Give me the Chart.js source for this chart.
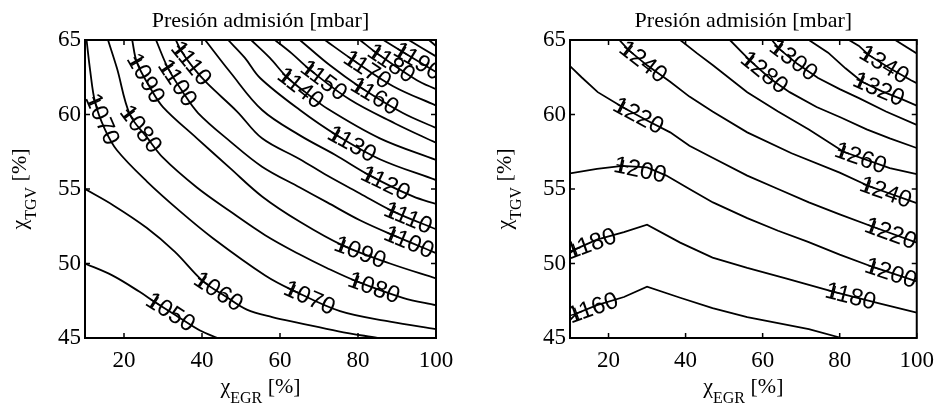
<!DOCTYPE html>
<html>
<head>
<meta charset="utf-8">
<title>Presión admisión</title>
<script src="https://cdn.jsdelivr.net/npm/chart.js@4.4.1/dist/chart.umd.min.js"></script>
<style>
  html, body { margin: 0; padding: 0; background: #fff; }
  #wrap { position: relative; width: 943px; height: 410px; }
  .panel { position: absolute; top: 0; height: 410px; }
</style>
</head>
<body>
<div id="wrap">
  <div class="panel" style="left:0;width:471px"><canvas id="chartLeft" width="471" height="410"></canvas></div>
  <div class="panel" style="left:471px;width:472px"><canvas id="chartRight" width="472" height="410"></canvas></div>
</div>
<script>
// axes
const xTicks = [20, 40, 60, 80, 100];
const yTicks = [45, 50, 55, 60, 65];

// left map: iso-pressure lines, points are [xEGR %, xTGV %]
const L1050 = [[10, 50.0], [17, 49.2], [24, 48.1], [28, 47.4], [34, 46.4], [39.5, 45.5], [44, 45.0]];
const L1060 = [[10, 55.0], [17.3, 53.9], [25.8, 52.4], [33, 50.8], [40.3, 48.8], [46, 47.8], [51.5, 46.9], [58, 46.4], [65, 46.0], [75, 45.45], [85, 45.0]];
const L1070 = [[10.4, 65], [11.3, 63.0], [12.6, 60.8], [15.1, 59.0], [18.2, 57.6], [25.9, 55.5], [34.4, 53.5], [42.8, 51.7], [56.2, 49.2], [63.3, 48.2], [75.4, 46.8], [88.2, 46.1], [100, 45.6]];
const L1080 = [[15.9, 65], [18.2, 63.1], [21.5, 60.0], [25.8, 58.5], [30, 57.1], [38.7, 55.1], [47.2, 53.5], [56.2, 51.9], [65.1, 50.6], [72, 49.7], [79.7, 48.8], [91.5, 47.7], [100, 47.2]];
const L1090 = [[22.1, 65], [23.3, 63.5], [26.7, 61.8], [30, 60.5], [38.7, 58.4], [47.2, 56.4], [55.4, 54.5], [65.1, 52.8], [76.2, 51.2], [88.2, 50.0], [100, 49.0]];
const L1100 = [[28.2, 65], [31.3, 63.1], [35.1, 61.5], [39, 60.1], [47.2, 58.2], [55.4, 56.5], [65.1, 55.1], [72.1, 54.1], [80.5, 52.9], [89, 51.9], [100, 50.7]];
const L1110 = [[33.3, 65], [34.6, 64.3], [37.6, 63.2], [41.3, 62.1], [49, 60.2], [55.4, 58.4], [65.1, 57.0], [72.1, 55.9], [80.5, 54.7], [89, 53.5], [100, 52.3]];
const L1120 = [[40.8, 65], [47.2, 62.85], [55.4, 60.3], [65.1, 58.6], [74.1, 57.3], [83.1, 55.9], [94.1, 54.5], [100, 54.0]];
const L1130 = [[46.7, 65], [51, 63.8], [54.9, 62.45], [65.1, 60.3], [74.6, 58.6], [85.6, 57.0], [100, 55.6]];
const L1140 = [[52.6, 65], [57.4, 63.8], [61.8, 62.5], [66.5, 61.5], [72.1, 60.4], [85.6, 58.4], [100, 56.95]];
const L1150 = [[58.7, 65], [63, 64.1], [67.7, 63.0], [77.9, 61.0], [89.5, 59.4], [100, 58.1]];
const L1160 = [[65.1, 65], [72.8, 63.3], [80.5, 61.85], [91.5, 60.1], [100, 59.1]];
const L1170 = [[71.5, 65], [78.7, 63.66], [89, 61.9], [100, 60.6]];
const L1180 = [[80.5, 65], [84.9, 64.1], [95.1, 62.3], [100, 61.7]];
const L1190 = [[86.5, 65], [91.5, 64.2], [100, 62.85]];
const L1200 = [[93, 65], [100, 63.9]];
const L1210 = [[98.2, 65], [100, 64.6]];

// [level, x, y] where each inline label sits
const leftLabels = [
  [1070, 12.6, 60.8], [1080, 21.5, 60.0], [1090, 23.3, 63.5], [1100, 31.3, 63.1], [1110, 34.6, 64.3],
  [1050, 28, 47.4], [1060, 40.3, 48.8], [1070, 63.3, 48.2], [1080, 79.7, 48.8], [1090, 76.2, 51.2],
  [1100, 89, 51.9], [1110, 89, 53.5], [1120, 83.1, 55.9], [1130, 74.6, 58.6], [1140, 61.8, 62.5],
  [1150, 67.7, 63.0], [1160, 80.5, 61.85], [1170, 78.7, 63.66], [1180, 84.9, 64.1], [1190, 91.5, 64.2]
];

// right map
const R1160 = [[10, 46.2], [11.7, 46.65], [17, 47.2], [24, 47.75], [30, 48.45], [38.6, 47.7], [47, 47.0], [56, 46.4], [64, 46.0], [72, 45.6], [80.5, 45.0]];
const R1180 = [[10, 50.7], [11.3, 50.95], [17, 51.6], [24, 52.1], [30, 52.6], [38.6, 51.4], [47, 50.4], [56, 49.7], [66, 49.0], [78.5, 48.1], [90.5, 47.3], [100, 46.7]];
const R1200 = [[10, 56.05], [17, 56.35], [23.6, 56.55], [30, 56.45], [35, 55.9], [41, 55.0], [47.1, 54.1], [56, 53.05], [64, 52.2], [71.8, 51.45], [80, 50.6], [88.8, 49.75], [100, 48.8]];
const R1220 = [[10, 63.25], [13, 62.5], [17.2, 61.5], [23.6, 60.5], [30, 59.6], [36, 58.8], [41, 57.9], [47, 57.1], [56, 55.9], [64, 55.0], [72, 54.1], [80, 53.3], [88.8, 52.45], [100, 51.4]];
const R1240 = [[22.8, 65], [25.3, 64.3], [30, 63.3], [36, 62.2], [41, 61.2], [47, 60.2], [56, 58.8], [67.5, 57.4], [80, 56.1], [87.5, 55.2], [100, 54.05]];
const R1260 = [[38.6, 65], [43, 64.1], [47.1, 63.3], [56, 61.5], [64, 60.2], [72, 59.0], [81, 57.5], [93, 56.4], [100, 56.0]];
const R1280 = [[51.5, 65], [56.8, 63.6], [62, 62.4], [67, 61.5], [74, 60.5], [80.3, 59.8], [87, 59.0], [93, 58.4], [100, 57.75]];
const R1300 = [[62.4, 65], [64.3, 64.4], [69, 63.4], [74.4, 62.45], [80, 61.7], [85, 61.1], [92, 60.2], [100, 59.3]];
const R1320 = [[72, 65], [77, 64.15], [81.5, 63.1], [85.8, 62.2], [91, 61.55], [96.4, 61.0], [100, 60.6]];
const R1340 = [[82.4, 65], [85, 64.6], [87.5, 64.0], [93, 63.1], [98.5, 62.3], [100, 62.1]];
const R1360 = [[94.4, 65], [100, 64.1]];

const rightLabels = [
  [1160, 11.7, 46.65], [1180, 11.3, 50.95], [1180, 78.5, 48.1], [1200, 23.6, 56.55], [1200, 88.8, 49.75],
  [1220, 23.6, 60.5], [1220, 88.8, 52.45], [1240, 25.3, 64.3], [1240, 87.5, 55.2], [1260, 81, 57.5],
  [1280, 56.8, 63.6], [1300, 64.3, 64.4], [1320, 85.8, 62.2], [1340, 87.5, 64.0]
];

const leftContours = [
  [1050, L1050], [1060, L1060], [1070, L1070], [1080, L1080], [1090, L1090], [1100, L1100],
  [1110, L1110], [1120, L1120], [1130, L1130], [1140, L1140], [1150, L1150], [1160, L1160],
  [1170, L1170], [1180, L1180], [1190, L1190], [1200, L1200], [1210, L1210]
];
const rightContours = [
  [1160, R1160], [1180, R1180], [1200, R1200], [1220, R1220], [1240, R1240], [1260, R1260],
  [1280, R1280], [1300, R1300], [1320, R1320], [1340, R1340], [1360, R1360]
];

const SERIF = "'Liberation Serif', 'Times New Roman', serif";
const SANS = "'Liberation Sans', Arial, Helvetica, sans-serif";

// direction of the line at a label, walking ~dist px forward along it
function labelAngle(pts, px, py, dist) {
  let best = Infinity, seg = 0, t = 0;
  for (let i = 0; i < pts.length - 1; i++) {
    const [ax, ay] = pts[i], [bx, by] = pts[i + 1];
    const dx = bx - ax, dy = by - ay, l2 = dx * dx + dy * dy;
    let u = l2 ? ((px - ax) * dx + (py - ay) * dy) / l2 : 0;
    u = Math.max(0, Math.min(1, u));
    const qx = ax + u * dx, qy = ay + u * dy;
    const d = (qx - px) ** 2 + (qy - py) ** 2;
    if (d < best) { best = d; seg = i; t = u; }
  }
  let cx = pts[seg][0] + t * (pts[seg + 1][0] - pts[seg][0]);
  let cy = pts[seg][1] + t * (pts[seg + 1][1] - pts[seg][1]);
  let left = dist, tx = cx, ty = cy;
  for (let i = seg + 1; i < pts.length && left > 0; i++) {
    const [nx, ny] = pts[i];
    const l = Math.hypot(nx - cx, ny - cy);
    if (l >= left) {
      tx = cx + (nx - cx) * left / l;
      ty = cy + (ny - cy) * left / l;
      left = 0;
    } else {
      left -= l; cx = nx; cy = ny; tx = nx; ty = ny;
    }
  }
  return Math.atan2(ty - py, tx - px);
}

const contourLabels = {
  id: 'contourLabels',
  afterDatasetsDraw(chart, args, opts) {
    const { ctx, chartArea: a, scales: { x, y } } = chart;
    ctx.save();
    ctx.beginPath();
    ctx.rect(a.left, a.top, a.right - a.left, a.bottom - a.top);
    ctx.clip();
    ctx.fillStyle = '#000';
    ctx.strokeStyle = '#000';
    ctx.font = '24px ' + SANS;
    ctx.textBaseline = 'middle';
    ctx.textAlign = 'left';
    opts.labels.forEach(([level, lx, ly]) => {
      const ds = chart.data.datasets.find(d => d.label === String(level));
      const path = ds.data.map(p => [x.getPixelForValue(p.x), y.getPixelForValue(p.y)]);
      const px = x.getPixelForValue(lx), py = y.getPixelForValue(ly);
      const ang = labelAngle(path, px, py, 45);
      ctx.save();
      ctx.translate(px, py);
      ctx.rotate(ang);
      ctx.lineWidth = 1.4;
      ctx.beginPath();
      ctx.moveTo(-6, 0); ctx.lineTo(6, 0);
      ctx.moveTo(0, -6); ctx.lineTo(0, 6);
      ctx.stroke();
      ctx.fillText(String(level), -8.5, 1);
      ctx.restore();
    });
    ctx.restore();
  }
};

function axisTitle(ctx, sub, cx, cy, vertical) {
  const big = '22px ' + SERIF, small = '16px ' + SERIF;
  ctx.font = big;
  const w1 = ctx.measureText('χ').width;
  const w3 = ctx.measureText(' [%]').width;
  ctx.font = small;
  const w2 = ctx.measureText(sub).width;
  const x0 = -(w1 + w2 + w3) / 2;
  ctx.save();
  ctx.translate(cx, cy);
  if (vertical) ctx.rotate(-Math.PI / 2);
  ctx.textAlign = 'left';
  ctx.textBaseline = 'alphabetic';
  ctx.font = big;
  ctx.fillText('χ', x0, 0);
  ctx.font = small;
  ctx.fillText(sub, x0 + w1, 10);
  ctx.font = big;
  ctx.fillText(' [%]', x0 + w1 + w2, 0);
  ctx.restore();
}

// box, inward ticks on all four sides, title and axis titles
const frame = {
  id: 'frame',
  afterDraw(chart) {
    const { ctx, chartArea: a, scales: { x, y } } = chart;
    ctx.save();
    ctx.strokeStyle = '#000';
    ctx.lineWidth = 1.5;
    ctx.beginPath();
    xTicks.forEach(v => {
      const p = x.getPixelForValue(v);
      ctx.moveTo(p, a.bottom); ctx.lineTo(p, a.bottom - 5);
      ctx.moveTo(p, a.top); ctx.lineTo(p, a.top + 5);
    });
    yTicks.forEach(v => {
      const p = y.getPixelForValue(v);
      ctx.moveTo(a.left, p); ctx.lineTo(a.left + 5, p);
      ctx.moveTo(a.right, p); ctx.lineTo(a.right - 5, p);
    });
    ctx.stroke();
    ctx.lineWidth = 2;
    ctx.strokeRect(a.left, a.top, a.right - a.left, a.bottom - a.top);

    ctx.fillStyle = '#000';
    ctx.font = '22px ' + SERIF;
    ctx.textAlign = 'center';
    ctx.textBaseline = 'alphabetic';
    ctx.fillText('Presión admisión [mbar]', (a.left + a.right) / 2, 27);

    axisTitle(ctx, 'EGR', (a.left + a.right) / 2, a.bottom + 55, false);
    axisTitle(ctx, 'TGV', a.left - 59, (a.top + a.bottom) / 2, true);
    ctx.restore();
  }
};

function makeMap(canvasId, contours, labels, box, tension) {
  const datasets = contours.map(([level, pts]) => ({
    label: String(level),
    data: pts.map(([x, y]) => ({ x, y })),
    showLine: true,
    borderColor: '#000',
    borderWidth: 1.8,
    pointRadius: 0,
    tension: tension,
    fill: false
  }));
  return new Chart(document.getElementById(canvasId), {
    type: 'scatter',
    data: { datasets },
    options: {
      responsive: false,
      animation: false,
      devicePixelRatio: 1,
      layout: { padding: { top: box.top, right: box.right, left: 0, bottom: 0 } },
      plugins: {
        legend: { display: false },
        tooltip: { enabled: false },
        contourLabels: { labels }
      },
      scales: {
        x: {
          type: 'linear', min: 10, max: 100,
          grid: { display: false, drawTicks: false },
          border: { display: false },
          afterBuildTicks: s => { s.ticks = xTicks.map(v => ({ value: v })); },
          afterFit: s => { s.height = box.bottom; },
          ticks: { color: '#000', padding: 9, maxRotation: 0, autoSkip: false, font: { family: SERIF, size: 23 } }
        },
        y: {
          type: 'linear', min: 45, max: 65,
          grid: { display: false, drawTicks: false },
          border: { display: false },
          afterBuildTicks: s => { s.ticks = yTicks.map(v => ({ value: v })); },
          afterFit: s => { s.width = box.left; },
          ticks: { color: '#000', padding: 4, autoSkip: false, font: { family: SERIF, size: 23 } }
        }
      }
    },
    plugins: [contourLabels, frame]
  });
}

makeMap('chartLeft', leftContours, leftLabels, { left: 85, top: 40, right: 35, bottom: 72 }, 0.35);
makeMap('chartRight', rightContours, rightLabels, { left: 99, top: 40, right: 21, bottom: 72 }, 0);
</script>
</body>
</html>
